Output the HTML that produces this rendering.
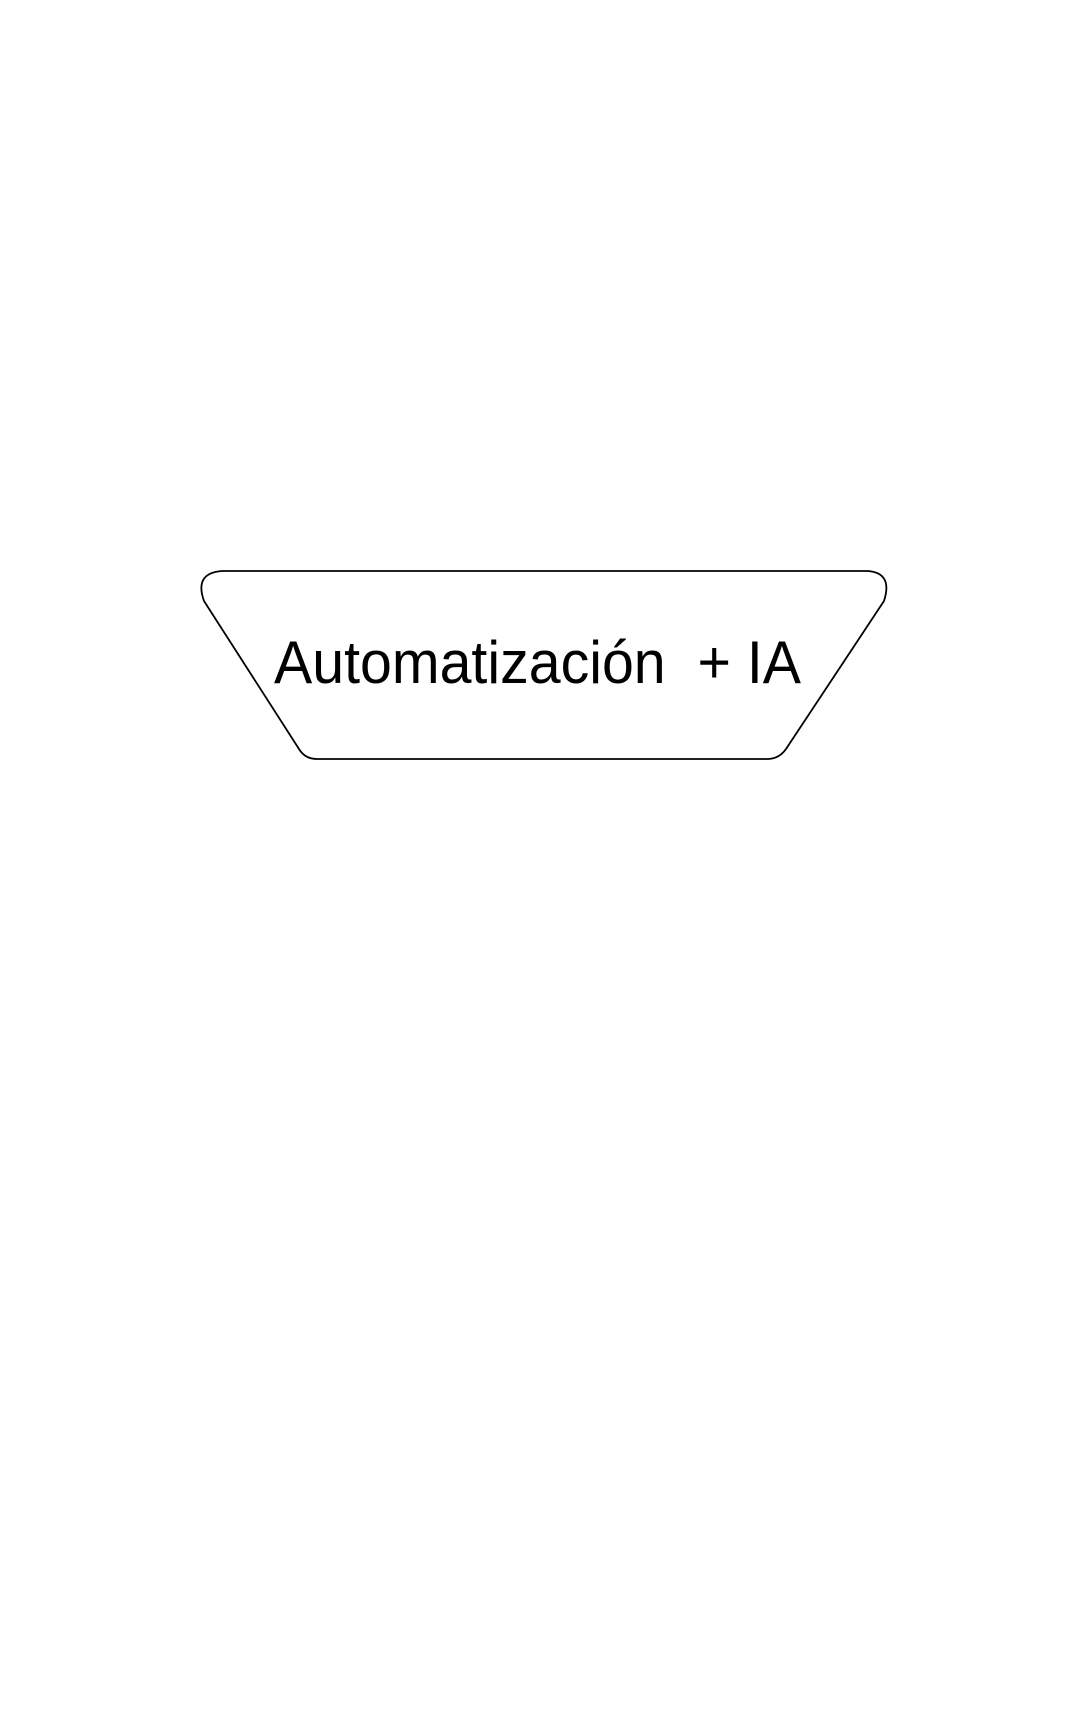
<!DOCTYPE html>
<html><head><meta charset="utf-8"><style>
html,body{margin:0;padding:0;background:#fff;}
svg{display:block}
</style></head><body>
<svg width="1080" height="1720" viewBox="0 0 1080 1720" xmlns="http://www.w3.org/2000/svg">
<rect width="1080" height="1720" fill="#fefefe"/>
<path d="M222 571 L868 571 Q893 573 884 601 L786 749 Q779 759 767 759 L317 759 Q305 759 299 749 L204 601 Q194 573 222 571 Z" fill="#fff" stroke="#000" stroke-width="1.8"/>
<text x="274" y="683" font-family="Liberation Sans, sans-serif" font-size="60" fill="#000" textLength="527" lengthAdjust="spacingAndGlyphs" xml:space="preserve">Automatización  + IA</text>
</svg>
</body></html>
